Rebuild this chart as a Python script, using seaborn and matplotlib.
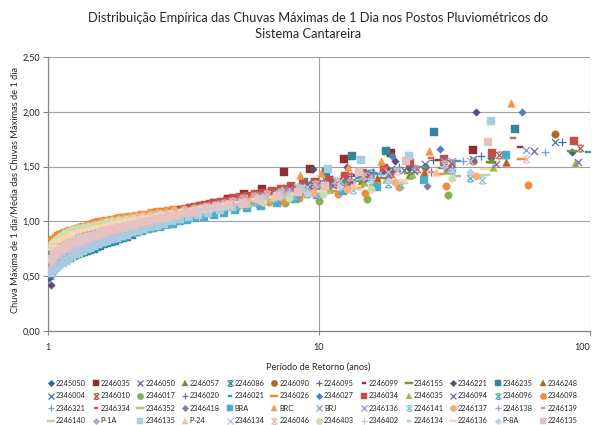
import numpy as np
import pandas as pd
import matplotlib
matplotlib.use("Agg")
import matplotlib.pyplot as plt
from matplotlib.path import Path
from matplotlib.lines import Line2D
from matplotlib.ticker import FixedLocator, FuncFormatter, NullLocator
import seaborn as sns

# ---------------- data: normalized annual max 1-day rainfall, sorted descending ----------------
v2245050 = [1.63,1.58,1.52,1.49,1.46,1.42,1.39,1.36,1.33,1.30,
            1.28,1.26,1.24,1.22,1.21,1.19,1.17,1.16,1.14,1.13,
            1.11,1.10,1.09,1.08,1.06,1.05,1.04,1.03,1.02,1.01,
            1.00,0.99,0.98,0.98,0.97,0.96,0.95,0.94,0.93,0.93,
            0.92,0.91,0.90,0.89,0.89,0.88,0.87,0.86,0.85,0.85,
            0.84,0.83,0.83,0.82,0.81,0.80,0.79,0.79,0.78,0.77,
            0.76,0.76,0.75,0.74,0.73,0.73,0.72,0.71,0.70,0.69,
            0.68,0.67,0.67,0.66,0.65,0.64,0.63,0.61,0.60,0.59,
            0.57,0.55,0.53,0.51,0.48]
v2246035 = [1.65,1.62,1.57,1.48,1.45,1.30,1.25,1.20,1.17,1.14,
            1.12,1.10,1.08,1.06,1.04,1.02,1.00,0.98,0.97,0.95,
            0.94,0.92,0.91,0.89,0.87,0.86,0.84,0.82,0.80,0.78,
            0.76,0.74,0.71,0.68,0.64,0.58]
v2246050 = [1.64,1.52,1.47,1.42,1.37,1.33,1.31,1.28,1.25,1.23,
            1.21,1.18,1.16,1.14,1.12,1.10,1.08,1.07,1.06,1.04,
            1.03,1.02,1.00,0.99,0.98,0.97,0.96,0.94,0.93,0.92,
            0.91,0.90,0.89,0.88,0.87,0.86,0.85,0.84,0.83,0.82,
            0.81,0.80,0.79,0.78,0.77,0.76,0.75,0.74,0.73,0.72,
            0.71,0.70,0.69,0.68,0.66,0.65,0.63,0.61,0.59,0.56,0.52]
v2246057 = [1.57,1.42,1.37,1.31,1.27,1.23,1.20,1.17,1.15,1.13,
            1.11,1.09,1.08,1.06,1.05,1.03,1.02,1.01,0.99,0.98,
            0.97,0.96,0.94,0.93,0.92,0.91,0.90,0.89,0.88,0.87,
            0.85,0.84,0.83,0.82,0.81,0.79,0.78,0.76,0.74,0.72,0.70,0.66]
v2246086 = [1.50,1.44,1.34,1.28,1.23,1.19,1.16,1.13,1.10,1.08,
            1.06,1.03,1.01,0.99,0.97,0.95,0.93,0.91,0.90,0.88,
            0.86,0.84,0.83,0.81,0.79,0.77,0.74,0.71,0.68,0.64]
v2246090 = [1.80,1.55,1.50,1.45,1.41,1.37,1.34,1.32,1.30,1.28,
            1.25,1.24,1.22,1.20,1.18,1.17,1.16,1.14,1.13,1.12,
            1.11,1.10,1.09,1.08,1.07,1.06,1.05,1.04,1.03,1.02,
            1.01,1.00,0.99,0.98,0.98,0.97,0.96,0.95,0.94,0.93,
            0.93,0.92,0.91,0.91,0.90,0.89,0.88,0.88,0.87,0.86,
            0.85,0.84,0.84,0.83,0.82,0.81,0.80,0.79,0.79,0.78,
            0.77,0.76,0.76,0.75,0.74,0.73,0.72,0.71,0.70,0.68,0.66,0.63,0.59]
v2246095 = [1.72,1.60,1.56,1.50,1.45,1.41,1.37,1.34,1.32,1.30,
            1.28,1.26,1.24,1.22,1.20,1.19,1.17,1.16,1.15,1.13,
            1.12,1.11,1.10,1.09,1.08,1.07,1.06,1.05,1.04,1.03,
            1.02,1.00,0.99,0.99,0.98,0.97,0.96,0.95,0.94,0.93,
            0.93,0.92,0.91,0.90,0.89,0.88,0.88,0.87,0.86,0.85,
            0.84,0.84,0.83,0.82,0.81,0.80,0.80,0.79,0.78,0.77,
            0.77,0.76,0.75,0.74,0.73,0.72,0.71,0.70,0.69,0.68,
            0.67,0.66,0.65,0.63,0.61,0.59,0.56,0.52]
v2246099 = [1.68,1.56,1.48,1.42,1.38,1.33,1.30,1.26,1.24,1.22,
            1.19,1.17,1.16,1.14,1.12,1.11,1.09,1.08,1.07,1.05,
            1.04,1.03,1.01,1.00,0.99,0.98,0.97,0.96,0.95,0.93,
            0.92,0.91,0.90,0.89,0.88,0.87,0.86,0.85,0.84,0.83,
            0.82,0.81,0.80,0.79,0.78,0.77,0.76,0.75,0.73,0.72,
            0.70,0.67,0.64,0.60]
v2346155 = [1.64,1.54,1.49,1.44,1.40,1.37,1.35,1.32,1.31,1.29,
            1.27,1.26,1.24,1.23,1.21,1.20,1.19,1.18,1.17,1.16,
            1.15,1.14,1.13,1.12,1.11,1.10,1.09,1.09,1.08,1.07,
            1.06,1.06,1.05,1.04,1.03,1.03,1.02,1.02,1.01,1.00,
            1.00,0.99,0.99,0.98,0.97,0.97,0.96,0.96,0.95,0.94,
            0.94,0.93,0.93,0.92,0.92,0.91,0.90,0.90,0.89,0.89,
            0.88,0.87,0.87,0.86,0.86,0.85,0.85,0.84,0.84,0.83,
            0.82,0.82,0.81,0.80,0.79,0.79,0.78,0.77,0.76,0.75,
            0.74,0.72,0.70,0.69,0.66]
v2346221 = [2.00,1.55,1.50,1.48,1.30,1.24,1.19,1.15,1.12,1.09,
            1.07,1.05,1.02,1.00,0.98,0.96,0.94,0.92,0.90,0.88,
            0.86,0.84,0.82,0.80,0.78,0.76,0.75,0.73,0.71,0.70,
            0.68,0.66,0.64,0.62,0.59,0.56,0.42]
v2346235 = [1.84,1.82,1.64,1.60,1.45,1.36,1.30,1.26,1.22,1.19,
            1.17,1.15,1.12,1.10,1.08,1.05,1.03,1.01,1.00,0.98,
            0.96,0.94,0.93,0.92,0.90,0.88,0.86,0.85,0.84,0.82,
            0.81,0.80,0.79,0.78,0.77,0.75,0.74,0.73,0.72,0.71,
            0.70,0.69,0.68,0.67,0.66,0.65,0.64,0.63,0.62,0.60,0.58,0.55]
v2346248 = [1.54,1.45,1.40,1.35,1.30,1.26,1.23,1.20,1.17,1.15,
            1.13,1.12,1.10,1.09,1.08,1.06,1.05,1.04,1.02,1.01,
            1.00,0.99,0.98,0.97,0.96,0.95,0.94,0.93,0.92,0.91,
            0.90,0.89,0.88,0.87,0.86,0.85,0.84,0.83,0.82,0.81,
            0.79,0.78,0.77,0.75,0.73,0.71,0.69,0.66]
v2346004 = [1.72,1.57,1.52,1.48,1.44,1.40,1.37,1.34,1.31,1.29,
            1.26,1.24,1.22,1.20,1.18,1.17,1.15,1.14,1.12,1.11,
            1.10,1.08,1.07,1.06,1.04,1.03,1.02,1.01,1.00,0.98,
            0.97,0.96,0.95,0.94,0.93,0.93,0.92,0.91,0.90,0.89,
            0.88,0.87,0.86,0.85,0.85,0.84,0.83,0.82,0.81,0.80,
            0.79,0.78,0.77,0.76,0.75,0.74,0.73,0.72,0.71,0.70,
            0.69,0.68,0.67,0.66,0.65,0.64,0.62,0.61,0.60,0.58,0.56,0.53,0.50]
v2346010 = [1.67,1.61,1.53,1.48,1.43,1.40,1.36,1.34,1.31,1.29,
            1.27,1.25,1.24,1.22,1.21,1.19,1.18,1.17,1.15,1.14,
            1.13,1.12,1.11,1.10,1.09,1.08,1.07,1.06,1.05,1.05,
            1.04,1.03,1.03,1.02,1.01,1.00,1.00,0.99,0.98,0.98,
            0.97,0.96,0.96,0.95,0.95,0.94,0.93,0.93,0.92,0.91,
            0.91,0.90,0.90,0.89,0.88,0.88,0.87,0.87,0.86,0.85,
            0.85,0.84,0.84,0.83,0.82,0.82,0.81,0.81,0.80,0.79,
            0.79,0.78,0.77,0.77,0.76,0.76,0.75,0.74,0.73,0.72,
            0.71,0.71,0.70,0.69,0.68,0.67,0.66,0.64,0.62,0.60,0.56]
v2346017 = [1.24,1.20,1.19,1.17,1.15,1.13,1.12,1.11,1.10,1.09,
            1.08,1.07,1.06,1.05,1.04,1.03,1.02,1.01,1.00,0.99,
            0.98,0.96,0.95,0.93,0.91,0.88,0.84,0.79,0.72]
v2346020 = [1.45,1.36,1.29,1.23,1.18,1.14,1.10,1.08,1.05,1.03,
            1.00,0.98,0.96,0.94,0.92,0.90,0.88,0.86,0.84,0.81,
            0.79,0.76,0.73,0.70,0.65]
v2346021 = [1.63,1.58,1.55,1.50,1.46,1.43,1.40,1.37,1.34,1.32,
            1.30,1.29,1.27,1.26,1.24,1.23,1.22,1.21,1.19,1.18,
            1.17,1.16,1.15,1.14,1.13,1.12,1.11,1.10,1.09,1.09,
            1.08,1.07,1.06,1.06,1.05,1.04,1.04,1.03,1.02,1.02,
            1.01,1.00,1.00,0.99,0.99,0.98,0.97,0.97,0.96,0.96,
            0.95,0.94,0.94,0.93,0.93,0.92,0.91,0.91,0.90,0.90,
            0.89,0.89,0.88,0.88,0.87,0.86,0.86,0.85,0.85,0.84,
            0.83,0.83,0.82,0.82,0.81,0.80,0.80,0.79,0.78,0.78,
            0.77,0.76,0.76,0.75,0.74,0.73,0.72,0.71,0.71,0.70,
            0.69,0.67,0.66,0.65,0.63,0.62,0.59]
v2346026 = [1.57,1.43,1.36,1.31,1.28,1.26,1.25,1.23,1.22,1.21,
            1.20,1.19,1.18,1.17,1.16,1.15,1.14,1.13,1.13,1.12,
            1.11,1.11,1.10,1.09,1.09,1.08,1.07,1.07,1.06,1.06,
            1.05,1.04,1.03,1.03,1.02,1.02,1.01,1.00,0.99,0.98,
            0.98,0.97,0.96,0.95,0.94,0.94,0.93,0.92,0.91,0.90,
            0.89,0.88,0.86,0.84,0.80]
v2346027 = [2.00,1.66,1.60,1.45,1.39,1.35,1.32,1.29,1.26,1.24,
            1.21,1.19,1.17,1.15,1.13,1.11,1.09,1.08,1.06,1.04,
            1.03,1.01,0.99,0.98,0.96,0.95,0.93,0.92,0.91,0.90,
            0.89,0.87,0.86,0.85,0.84,0.83,0.81,0.80,0.79,0.78,
            0.77,0.76,0.75,0.74,0.73,0.71,0.70,0.68,0.67,0.65,
            0.63,0.61,0.58,0.55,0.52]
v2346034 = [1.73,1.62,1.57,1.53,1.49,1.44,1.41,1.38,1.36,1.34,
            1.32,1.30,1.28,1.26,1.25,1.23,1.22,1.21,1.19,1.18,
            1.17,1.16,1.15,1.14,1.13,1.12,1.11,1.10,1.09,1.08,
            1.07,1.06,1.05,1.04,1.04,1.03,1.02,1.01,1.00,1.00,
            0.99,0.98,0.97,0.97,0.96,0.95,0.94,0.94,0.93,0.92,
            0.91,0.91,0.90,0.89,0.88,0.88,0.87,0.86,0.85,0.85,
            0.84,0.83,0.83,0.82,0.81,0.80,0.80,0.79,0.78,0.78,
            0.77,0.76,0.75,0.74,0.73,0.72,0.71,0.70,0.69,0.68,
            0.67,0.66,0.64,0.62,0.60,0.56]
v2346035 = [1.53,1.50,1.47,1.43,1.39,1.36,1.33,1.30,1.29,1.27,
            1.26,1.24,1.22,1.21,1.20,1.19,1.17,1.16,1.15,1.14,
            1.13,1.12,1.11,1.10,1.10,1.09,1.08,1.07,1.06,1.05,
            1.05,1.04,1.03,1.03,1.02,1.01,1.00,1.00,0.99,0.99,
            0.98,0.98,0.97,0.97,0.96,0.95,0.95,0.94,0.94,0.93,
            0.93,0.92,0.92,0.91,0.91,0.90,0.89,0.89,0.88,0.88,
            0.87,0.87,0.86,0.86,0.85,0.84,0.84,0.83,0.83,0.82,
            0.81,0.81,0.80,0.79,0.79,0.78,0.77,0.77,0.76,0.75,
            0.74,0.73,0.72,0.71,0.69,0.67,0.64]
v2346094 = [1.54,1.52,1.49,1.46,1.42,1.39,1.35,1.33,1.30,1.28,
            1.26,1.24,1.22,1.21,1.19,1.18,1.16,1.15,1.14,1.13,
            1.12,1.11,1.10,1.09,1.08,1.07,1.06,1.05,1.04,1.03,
            1.03,1.02,1.01,1.00,0.99,0.99,0.98,0.97,0.97,0.96,
            0.95,0.95,0.94,0.94,0.93,0.92,0.92,0.91,0.91,0.90,
            0.89,0.89,0.88,0.87,0.87,0.86,0.85,0.85,0.84,0.84,
            0.83,0.82,0.82,0.81,0.80,0.80,0.79,0.79,0.78,0.77,
            0.77,0.76,0.75,0.75,0.74,0.73,0.72,0.71,0.70,0.69,
            0.69,0.68,0.67,0.66,0.64,0.63,0.61,0.59,0.56]
v2346096 = [1.40,1.34,1.30,1.25,1.21,1.19,1.16,1.14,1.11,1.09,
            1.07,1.05,1.04,1.02,1.01,0.99,0.98,0.97,0.95,0.94,
            0.93,0.91,0.90,0.88,0.87,0.86,0.84,0.83,0.81,0.79,
            0.78,0.76,0.73,0.71,0.67]
v2346098 = [1.33,1.32,1.31,1.26,1.25,1.24,1.21,1.19,1.18,1.17,
            1.16,1.15,1.14,1.13,1.12,1.11,1.10,1.09,1.08,1.07,
            1.07,1.06,1.05,1.05,1.04,1.03,1.03,1.02,1.01,1.01,
            1.00,0.99,0.99,0.98,0.98,0.97,0.96,0.96,0.95,0.95,
            0.94,0.94,0.93,0.93,0.92,0.92,0.91,0.91,0.90,0.89,
            0.88,0.87,0.86,0.85,0.84,0.83,0.81,0.78]
v2346321 = [1.63,1.55,1.49,1.43,1.38,1.35,1.32,1.29,1.27,1.25,
            1.23,1.21,1.19,1.17,1.16,1.14,1.13,1.12,1.11,1.10,
            1.09,1.08,1.07,1.06,1.05,1.04,1.03,1.02,1.01,1.00,
            0.99,0.98,0.97,0.96,0.95,0.94,0.93,0.92,0.91,0.90,
            0.89,0.88,0.87,0.86,0.85,0.84,0.84,0.83,0.82,0.81,
            0.80,0.79,0.78,0.77,0.76,0.75,0.74,0.73,0.72,0.71,
            0.69,0.68,0.66,0.64,0.62,0.60,0.56]
v2346334 = [1.76,1.58,1.49,1.43,1.37,1.33,1.30,1.27,1.24,1.22,
            1.19,1.18,1.16,1.14,1.12,1.10,1.09,1.07,1.06,1.04,
            1.03,1.02,1.00,0.99,0.98,0.96,0.95,0.94,0.93,0.92,
            0.91,0.90,0.89,0.88,0.86,0.85,0.84,0.83,0.82,0.81,
            0.80,0.79,0.77,0.76,0.75,0.73,0.72,0.70,0.68,0.65,0.61]
v2346352 = [1.41,1.33,1.26,1.22,1.19,1.17,1.15,1.13,1.12,1.10,
            1.09,1.07,1.06,1.05,1.04,1.03,1.02,1.01,1.00,0.99,
            0.98,0.96,0.95,0.94,0.93,0.92,0.90,0.88,0.86,0.82,0.78]
v2346418 = [1.32,1.30,1.24,1.18,1.16,1.12,1.09,1.06,1.03,1.00,
            0.98,0.96,0.93,0.91,0.89,0.87,0.85,0.83,0.81,0.78,
            0.75,0.72,0.68,0.63]
vBRA = [1.61,1.38,1.31,1.28,1.24,1.20,1.17,1.14,1.12,1.10,
        1.08,1.06,1.04,1.03,1.01,1.00,0.98,0.97,0.95,0.94,
        0.93,0.91,0.90,0.89,0.88,0.86,0.85,0.84,0.83,0.82,
        0.80,0.79,0.78,0.77,0.76,0.74,0.73,0.72,0.70,0.69,
        0.68,0.66,0.64,0.63,0.61,0.59,0.57,0.54]
vBRC = [2.08,1.64,1.55,1.50,1.44,1.42,1.30,1.27,1.24,1.21,
        1.19,1.17,1.15,1.13,1.11,1.09,1.07,1.06,1.04,1.03,
        1.02,1.00,0.99,0.98,0.96,0.95,0.94,0.93,0.92,0.90,
        0.89,0.88,0.87,0.86,0.84,0.83,0.82,0.81,0.80,0.79,
        0.78,0.76,0.74,0.73,0.71,0.69,0.67,0.64,0.61,0.57]
vBRJ = [1.65,1.55,1.47,1.42,1.38,1.34,1.31,1.28,1.25,1.23,
        1.20,1.18,1.16,1.14,1.12,1.10,1.08,1.07,1.05,1.04,
        1.03,1.01,1.00,0.98,0.97,0.96,0.95,0.93,0.92,0.91,
        0.90,0.89,0.88,0.87,0.86,0.85,0.84,0.83,0.82,0.80,
        0.79,0.78,0.77,0.76,0.75,0.74,0.73,0.72,0.70,0.69,
        0.68,0.66,0.64,0.62,0.60,0.57,0.53]
v2346136 = [1.55,1.42,1.35,1.29,1.24,1.20,1.16,1.13,1.10,1.08,
            1.05,1.03,1.00,0.98,0.96,0.94,0.92,0.90,0.88,0.86,
            0.85,0.83,0.81,0.79,0.77,0.75,0.72,0.69,0.66,0.62]
v2246141 = [1.38,1.33,1.29,1.25,1.23,1.20,1.18,1.15,1.14,1.12,
            1.10,1.09,1.08,1.07,1.05,1.04,1.03,1.02,1.01,1.00,
            0.99,0.98,0.97,0.96,0.95,0.94,0.93,0.92,0.91,0.91,
            0.90,0.89,0.88,0.87,0.86,0.84,0.82,0.80,0.77]
v2246137 = [1.41,1.36,1.30,1.26,1.23,1.21,1.19,1.17,1.15,1.14,
            1.12,1.11,1.10,1.09,1.08,1.07,1.06,1.05,1.04,1.03,
            1.02,1.01,1.00,0.99,0.98,0.97,0.96,0.95,0.94,0.93,
            0.92,0.91,0.89,0.87,0.85,0.82,0.78]
v2246138 = [1.50,1.42,1.34,1.28,1.23,1.19,1.15,1.12,1.09,1.07,
            1.04,1.02,1.00,0.98,0.96,0.94,0.92,0.90,0.88,0.86,
            0.84,0.81,0.79,0.77,0.74,0.71,0.68,0.63]
v2246139 = [1.45,1.38,1.30,1.24,1.19,1.15,1.11,1.08,1.05,1.03,
            1.00,0.98,0.96,0.94,0.92,0.90,0.88,0.86,0.84,0.82,
            0.80,0.77,0.74,0.70,0.65]
v2246140 = [1.42,1.35,1.30,1.27,1.24,1.21,1.19,1.17,1.15,1.13,
            1.12,1.11,1.10,1.08,1.07,1.06,1.05,1.04,1.03,1.02,
            1.01,1.00,0.99,0.98,0.97,0.96,0.95,0.94,0.93,0.92,
            0.91,0.90,0.89,0.88,0.87,0.86,0.84,0.82,0.79,0.76]
vP1A = [1.45,1.40,1.33,1.28,1.23,1.19,1.16,1.13,1.10,1.08,
        1.06,1.04,1.02,1.00,0.98,0.96,0.94,0.92,0.90,0.88,
        0.86,0.84,0.82,0.80,0.78,0.76,0.74,0.71,0.68,0.64]
v2346135 = [1.92,1.60,1.56,1.48,1.30,1.24,1.20,1.16,1.13,1.10,
            1.08,1.06,1.04,1.02,1.00,0.98,0.96,0.95,0.93,0.91,
            0.90,0.88,0.87,0.85,0.84,0.82,0.81,0.79,0.78,0.76,
            0.75,0.73,0.71,0.70,0.68,0.66,0.64,0.62,0.60,0.58,0.56,0.53]
vP24 = [1.45,1.33,1.27,1.22,1.18,1.15,1.12,1.09,1.07,1.05,
        1.03,1.01,0.99,0.97,0.95,0.93,0.91,0.89,0.87,0.85,
        0.83,0.81,0.78,0.75,0.72,0.68]
v2346134 = [1.55,1.45,1.37,1.31,1.26,1.22,1.18,1.15,1.12,1.09,
            1.07,1.05,1.03,1.01,0.99,0.97,0.95,0.93,0.91,0.89,
            0.88,0.86,0.84,0.82,0.81,0.79,0.77,0.75,0.73,0.71,
            0.68,0.66,0.63,0.60,0.55]
v2246046 = [1.57,1.52,1.46,1.41,1.38,1.34,1.31,1.27,1.25,1.23,
            1.21,1.19,1.17,1.15,1.13,1.12,1.10,1.09,1.07,1.06,
            1.05,1.03,1.02,1.01,1.00,0.99,0.98,0.97,0.96,0.95,
            0.94,0.93,0.92,0.91,0.90,0.89,0.88,0.87,0.86,0.85,
            0.84,0.83,0.82,0.81,0.80,0.79,0.78,0.77,0.76,0.75,
            0.74,0.72,0.71,0.69,0.67,0.64,0.61]
v2346403 = [1.40,1.30,1.25,1.21,1.18,1.16,1.14,1.12,1.10,1.09,
            1.08,1.07,1.05,1.04,1.03,1.02,1.01,1.00,0.99,0.98,
            0.97,0.96,0.95,0.94,0.93,0.91,0.89,0.87,0.84,0.80]
v2346402 = [1.48,1.39,1.33,1.27,1.22,1.18,1.15,1.12,1.10,1.08,
            1.05,1.03,1.01,0.99,0.97,0.95,0.93,0.91,0.89,0.87,
            0.85,0.83,0.81,0.79,0.77,0.75,0.73,0.70,0.67,0.63]
v2246134 = [1.45,1.36,1.30,1.25,1.21,1.17,1.14,1.11,1.09,1.07,
            1.05,1.03,1.01,0.99,0.97,0.96,0.94,0.92,0.90,0.89,
            0.87,0.85,0.83,0.81,0.79,0.77,0.75,0.73,0.70,0.66]
v2246136 = [1.48,1.38,1.32,1.28,1.25,1.22,1.20,1.18,1.16,1.14,
            1.13,1.11,1.10,1.09,1.08,1.07,1.05,1.04,1.03,1.02,
            1.01,1.00,0.99,0.98,0.97,0.96,0.95,0.94,0.93,0.92,
            0.91,0.90,0.89,0.88,0.86,0.85,0.83,0.81,0.78,0.75]
vP8A = [1.45,1.37,1.31,1.26,1.22,1.19,1.16,1.13,1.11,1.09,
        1.07,1.05,1.03,1.02,1.00,0.99,0.97,0.96,0.94,0.93,
        0.91,0.90,0.88,0.87,0.85,0.84,0.82,0.80,0.79,0.77,
        0.75,0.73,0.71,0.68,0.64]
v2246135 = [1.72,1.55,1.45,1.32,1.27,1.23,1.20,1.17,1.15,1.13,
            1.11,1.09,1.08,1.06,1.05,1.03,1.02,1.00,0.99,0.98,
            0.97,0.95,0.94,0.93,0.92,0.91,0.89,0.88,0.87,0.86,
            0.85,0.84,0.82,0.81,0.80,0.78,0.76,0.74,0.72,0.70,0.66]

stations = ["2245050", "2246035", "2246050", "2246057", "2246086", "2246090",
            "2246095", "2246099", "2346155", "2346221", "2346235", "2346248",
            "2346004", "2346010", "2346017", "2346020", "2346021", "2346026",
            "2346027", "2346034", "2346035", "2346094", "2346096", "2346098",
            "2346321", "2346334", "2346352", "2346418", "BRA", "BRC",
            "BRJ", "2346136", "2246141", "2246137", "2246138", "2246139",
            "2246140", "P-1A", "2346135", "P-24", "2346134", "2246046",
            "2346403", "2346402", "2246134", "2246136", "P-8A", "2246135"]
values = [v2245050, v2246035, v2246050, v2246057, v2246086, v2246090,
          v2246095, v2246099, v2346155, v2346221, v2346235, v2346248,
          v2346004, v2346010, v2346017, v2346020, v2346021, v2346026,
          v2346027, v2346034, v2346035, v2346094, v2346096, v2346098,
          v2346321, v2346334, v2346352, v2346418, vBRA, vBRC,
          vBRJ, v2346136, v2246141, v2246137, v2246138, v2246139,
          v2246140, vP1A, v2346135, vP24, v2346134, v2246046,
          v2346403, v2346402, v2246134, v2246136, vP8A, v2246135]

# ---------------- styles ----------------
marker_codes = ["D", "s", "x", "^", "star", "o", "+", "dash", "ldash", "D", "s", "^",
                "x", "star", "o", "+", "dash", "ldash", "D", "s", "^", "x", "star", "o",
                "+", "dash", "ldash", "D", "s", "^", "x", "x", "star", "o", "+", "dash",
                "ldash", "D", "s", "^", "x", "star", "o", "+", "dash", "ldash", "D", "s"]
colors = ["#3A5F8B", "#8E2F2C", "#72619A", "#6E8B3D", "#31859C", "#B5652A",
          "#4A72B0", "#953735", "#77933C", "#604A7B", "#31859C", "#B9601F",
          "#4674B2", "#C0504D", "#8AAE4F", "#8064A2", "#3D9AB3", "#F08A3C",
          "#4F81BD", "#C0504D", "#9BBB59", "#8064A2", "#4BACC6", "#F08C42",
          "#7BA0CD", "#D9605C", "#A9C47F", "#8E73B0", "#4BACC6", "#F79646",
          "#7BA0CD", "#A18FBF", "#7FC4D8", "#F9AD7A", "#8DAAD6", "#D99694",
          "#C3D69B", "#B3A2C7", "#A6CEE0", "#FAC090", "#B0C6E3", "#E6B9B8",
          "#CCDDB0", "#CCC1DA", "#A5D5E3", "#FCD5B5", "#BCD0EA", "#E6C3C2"]

MV, LT = Path.MOVETO, Path.LINETO
star_path = Path([(-1, -1), (1, 1), (-1, 1), (1, -1), (-0.55, 1), (0.55, 1), (-0.55, -1), (0.55, -1)],
                 [MV, LT, MV, LT, MV, LT, MV, LT])
dash_path = Path([(-1, -0.45), (1, -0.45), (1, 0.45), (-1, 0.45), (-1, -0.45)],
                 [MV, LT, LT, LT, Path.CLOSEPOLY])
ldash_path = Path([(-1, -0.2), (1, -0.2), (1, 0.2), (-1, 0.2), (-1, -0.2)],
                  [MV, LT, LT, LT, Path.CLOSEPOLY])
marker_map = {"D": ("D", 15, 0.0), "s": ("s", 30, 0.0), "^": ("^", 31, 0.0),
              "o": ("o", 29, 0.0), "x": ("x", 26, 0.9), "+": ("+", 30, 0.9),
              "star": (star_path, 24, 0.9), "dash": (dash_path, 14, 0.0),
              "ldash": (ldash_path, 46, 0.0)}

sns.set_theme(style="white")
plt.rcParams['font.family'] = ['Lato', 'DejaVu Sans']
plt.rcParams['text.color'] = '#262626'

fig = plt.figure(figsize=(5.96, 4.25), dpi=100)
ax = fig.add_axes([48 / 596, 94 / 425, 542 / 596, 274 / 425])

handles = []
for name, vals, code, col in zip(stations, values, marker_codes, colors):
    n = len(vals)
    ret_period = (n + 1) / np.arange(1, n + 1)
    df = pd.DataFrame({"T": ret_period, "y": vals})
    mk, size, lw = marker_map[code]
    kw = dict(marker=mk, s=size, color=col, legend=False, ax=ax, zorder=3)
    if code in ("x", "+"):
        kw["linewidth"] = lw
    elif code == "star":
        kw["edgecolor"] = col
        kw["linewidth"] = lw
    else:
        kw["edgecolor"] = col
        kw["linewidth"] = 0.3
    sns.scatterplot(data=df, x="T", y="y", **kw)
    handles.append(Line2D([], [], linestyle="none", marker=mk, markersize=np.sqrt(size) * 0.85,
                          color=col, markerfacecolor=col, markeredgecolor=col,
                          markeredgewidth=(lw if code in ("x", "+", "star") else 0.3)))

ax.set_xscale("log")
ax.set_xlim(1, 100)
ax.set_ylim(0, 2.5)
ax.xaxis.set_major_locator(FixedLocator([1, 10, 100]))
ax.xaxis.set_minor_locator(NullLocator())
ax.xaxis.set_major_formatter(FuncFormatter(lambda v, p: f"{v:g}"))
ax.yaxis.set_major_locator(FixedLocator([0, 0.5, 1.0, 1.5, 2.0, 2.5]))
ax.yaxis.set_major_formatter(FuncFormatter(lambda v, p: f"{v:.2f}".replace(".", ",")))
ax.grid(True, which="major", color="#A0A0A0", linewidth=0.8, zorder=0)
ax.set_axisbelow(True)
for side in ("top", "right"):
    ax.spines[side].set_visible(False)
for side in ("left", "bottom"):
    ax.spines[side].set_color("#868686")
    ax.spines[side].set_linewidth(0.9)
ax.tick_params(axis="y", which="major", direction="out", length=3.5, width=0.8,
               color="#868686", labelsize=6.5, pad=2, labelcolor="#262626", left=True)
ax.tick_params(axis="x", which="major", direction="out", length=3, width=0.8,
               color="#868686", labelsize=6.5, pad=6, labelcolor="#262626", bottom=True)
ax.set_xlabel("")
ax.set_ylabel("")
fig.canvas.draw()
xlabels = ax.get_xticklabels()
xlabels[-1].set_horizontalalignment("right")
xlabels[-1].set_x(100)

fig.text(318.5 / 596, 1 - 18 / 425, "Distribuição Empírica das Chuvas Máximas de 1 Dia nos Postos Pluviométricos do",
         ha="center", va="center", fontsize=9.3)
fig.text(308 / 596, 1 - 34 / 425, "Sistema Cantareira", ha="center", va="center", fontsize=9.3)
fig.text(15 / 596, 1 - 190 / 425, "Chuva Máxima de 1 dia/Média das Chuvas Máximas de 1 dia",
         rotation=90, ha="center", va="center", fontsize=6.7)
fig.text(318 / 596, 1 - 367 / 425, "Período de Retorno (anos)", ha="center", va="center", fontsize=6.6)

# legend filled row by row (12 columns x 4 rows)
ncol, nrow = 12, 4
order = [r * ncol + c for c in range(ncol) for r in range(nrow)]
fig.legend([handles[i] for i in order], [stations[i] for i in order], ncol=ncol,
           loc="upper left", bbox_to_anchor=(48 / 596, 1 - 380 / 425), frameon=False,
           fontsize=5.3, handlelength=0.8, handletextpad=0.25, columnspacing=0.95,
           labelspacing=0.74, borderpad=0, borderaxespad=0, scatterpoints=1)

fig.savefig("out.png", dpi=100)
